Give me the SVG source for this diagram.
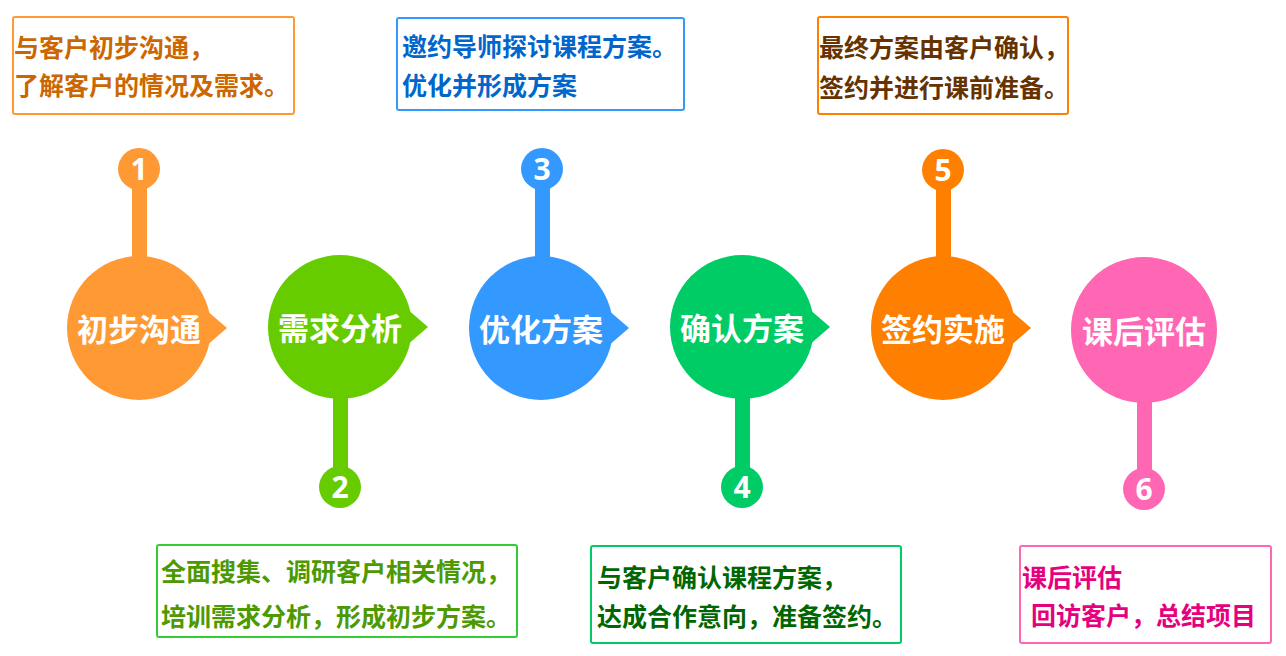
<svg xmlns="http://www.w3.org/2000/svg" width="1286" height="656" viewBox="0 0 1286 656">
<style>
.t{font-family:"Noto Sans CJK SC","Noto Sans",sans-serif;font-weight:bold}
.title{font-size:31px;fill:#fff;text-anchor:middle}
.num{font-family:"Open Sans","Noto Sans",sans-serif;font-weight:bold;font-size:30px;fill:#fff;text-anchor:middle}
.desc{font-size:25px}
.box{fill:#fff;stroke-width:2}
</style>
<rect width="1286" height="656" fill="#fff"/>
<g id="connectors">
<rect x="132" y="186" width="15" height="72" fill="#FF9933"/>
<rect x="333" y="396" width="15" height="72" fill="#66CC00"/>
<rect x="535" y="186" width="15" height="72" fill="#3399FF"/>
<rect x="735" y="396" width="15" height="72" fill="#00CC66"/>
<rect x="936" y="186" width="15" height="72" fill="#FF8000"/>
<rect x="1137" y="398" width="15" height="72" fill="#FF66B3"/>
</g>
<g id="node1">
<circle cx="139" cy="328" r="72" fill="#FF9933"/>
<path d="M205 309 L227 328 L205 347 Z" fill="#FF9933"/>
<circle cx="139" cy="169" r="21" fill="#FF9933"/>
<text class="num" x="139" y="180">1</text>
<text class="t title" x="139" y="341">初步沟通</text>
</g>
<g id="node2">
<circle cx="340" cy="327" r="72" fill="#66CC00"/>
<path d="M406 308 L428 327 L406 346 Z" fill="#66CC00"/>
<circle cx="340" cy="487" r="21" fill="#66CC00"/>
<text class="num" x="340" y="498">2</text>
<text class="t title" x="340" y="340">需求分析</text>
</g>
<g id="node3">
<circle cx="541" cy="328" r="72" fill="#3399FF"/>
<path d="M607 309 L629 328 L607 347 Z" fill="#3399FF"/>
<circle cx="542" cy="169" r="21" fill="#3399FF"/>
<text class="num" x="542" y="180">3</text>
<text class="t title" x="541" y="341">优化方案</text>
</g>
<g id="node4">
<circle cx="742" cy="327" r="72" fill="#00CC66"/>
<path d="M808 308 L830 327 L808 346 Z" fill="#00CC66"/>
<circle cx="742" cy="487" r="21" fill="#00CC66"/>
<text class="num" x="742" y="498">4</text>
<text class="t title" x="742" y="340">确认方案</text>
</g>
<g id="node5">
<circle cx="943" cy="328" r="72" fill="#FF8000"/>
<path d="M1009 309 L1031 328 L1009 347 Z" fill="#FF8000"/>
<circle cx="943" cy="170" r="21" fill="#FF8000"/>
<text class="num" x="943" y="181">5</text>
<text class="t title" x="943" y="341">签约实施</text>
</g>
<g id="node6">
<circle cx="1144" cy="330" r="73" fill="#FF66B3"/>
<circle cx="1144" cy="489" r="21" fill="#FF66B3"/>
<text class="num" x="1144" y="500">6</text>
<text class="t title" x="1144" y="343">课后评估</text>
</g>
<g id="box1">
<rect class="box" x="13" y="17" width="281" height="97" rx="2" stroke="#FF9933"/>
<text class="t desc" fill="#CC6600"><tspan x="14" y="57">与客户初步沟通，</tspan><tspan x="14" y="95">了解客户的情况及需求。</tspan></text>
</g>
<g id="box2">
<rect class="box" x="157" y="545" width="360" height="92" rx="2" stroke="#33CC33"/>
<text class="t desc" fill="#4D9900"><tspan x="161" y="581">全面搜集、调研客户相关情况，</tspan><tspan x="161" y="626">培训需求分析，形成初步方案。</tspan></text>
</g>
<g id="box3">
<rect class="box" x="397" y="18" width="287" height="92" rx="2" stroke="#3399FF"/>
<text class="t desc" fill="#0066CC"><tspan x="402" y="56">邀约导师探讨课程方案。</tspan><tspan x="402" y="95">优化并形成方案</tspan></text>
</g>
<g id="box4">
<rect class="box" x="591" y="546" width="310" height="97" rx="2" stroke="#00CC66"/>
<text class="t desc" fill="#006600"><tspan x="597" y="587">与客户确认课程方案，</tspan><tspan x="597" y="626">达成合作意向，准备签约。</tspan></text>
</g>
<g id="box5">
<rect class="box" x="818" y="17" width="250" height="97" rx="2" stroke="#FF8000"/>
<text class="t desc" fill="#663300"><tspan x="819" y="57">最终方案由客户确认，</tspan><tspan x="819" y="97">签约并进行课前准备。</tspan></text>
</g>
<g id="box6">
<rect class="box" x="1020" y="546" width="251" height="97" rx="2" stroke="#FF66B3"/>
<text class="t desc" fill="#E6007E"><tspan x="1022" y="587">课后评估</tspan><tspan x="1031" y="625">回访客户，总结项目</tspan></text>
</g>
</svg>
